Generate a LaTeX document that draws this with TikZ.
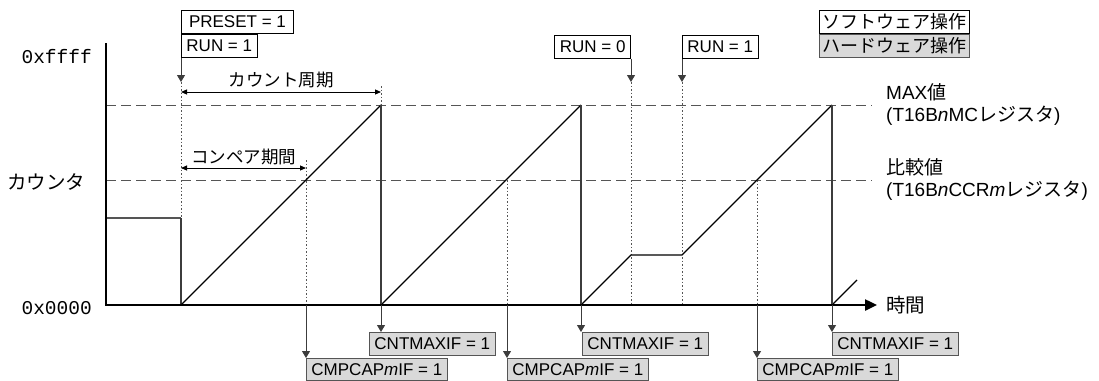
\documentclass[tikz,border=0pt]{standalone}
\usepackage{fontspec}
\usepackage{tikz}
\usetikzlibrary{arrows.meta, positioning}
\setmainfont{Liberation Sans}
\newfontfamily\jpfont{Noto Sans CJK JP}
\newfontfamily\hexfont{Liberation Mono}
\newcommand{\jp}[1]{{\jpfont #1}}
\definecolor{flaggray}{RGB}{217, 217, 217}
\definecolor{linegray}{RGB}{85, 85, 85}
\definecolor{dropgray}{RGB}{60, 60, 60}

\begin{document}
\begin{tikzpicture}[x=1pt, y=-1pt,
    swflag/.style={rectangle, draw=black, fill=white, line width=0.9pt,
        inner xsep=5pt, inner ysep=0pt, minimum height=23pt,
        font=\fontsize{17}{20}\selectfont},
    hwflag/.style={swflag, draw=linegray, fill=flaggray},
    legendbox/.style={swflag, inner xsep=3pt, font=\jpfont\fontsize{18}{20}\selectfont},
    axisline/.style={line width=2.4pt, line join=miter},
    levelline/.style={linegray, line width=1pt, dash pattern=on 10pt off 5pt},
    markline/.style={linegray, line width=1pt, dash pattern=on 1.5pt off 2pt},
    ramp/.style={line width=1.1pt},
    dropline/.style={dropgray, line width=1.3pt},
    flagarr/.style={-{Triangle[length=7pt, width=8pt]}, line width=1pt, dropgray},
    spanarr/.style={{Triangle[length=6pt, width=5pt]}-{Triangle[length=6pt, width=5pt]}, line width=1pt},
    lbl/.style={inner sep=0pt, font=\jpfont\fontsize{17.5}{20}\selectfont},
    sidelbl/.style={inner sep=0pt, align=left, anchor=west, font=\fontsize{19}{22}\selectfont}
]
\useasboundingbox (0,0) rectangle (1099,380);

% Event times on the time axis
\coordinate (o) at (106,305);
\coordinate (t0) at (181,305);
\coordinate (c1) at (306,305);
\coordinate (m1) at (381,305);
\coordinate (c2) at (507,305);
\coordinate (m2) at (581,305);
\coordinate (s1) at (631,305);
\coordinate (s2) at (682,305);
\coordinate (c3) at (757,305);
\coordinate (m3) at (832,305);
\coordinate (ytop) at (106,43);
\coordinate (maxv) at (106,105);
\coordinate (cmpv) at (106,180);
\coordinate (tipv) at (0,82);
\coordinate (lvlend) at (872,0);

% Threshold lines
\draw[levelline] (maxv) -- (maxv -| lvlend);
\draw[levelline] (cmpv) -- (cmpv -| lvlend);

% Dotted event markers
\draw[markline] (t0 |- tipv) -- (t0);
\draw[markline] (381,86) -- (381,105);
\draw[markline] (306,160) -- (c1);
\draw[markline] (c2 |- cmpv) -- (c2);
\draw[markline] (c3 |- cmpv) -- (c3);
\draw[markline] (s1 |- tipv) -- (s1);
\draw[markline] (s2 |- tipv) -- (s2);

% Counter
\draw[ramp, linegray] (106,218) -- (181,218);
\draw[dropline] (181,218) -- (t0);
\draw[ramp] (t0) -- (381,105);
\draw[ramp] (m1) -- (581,105);
\draw[ramp] (m2) -- (631,255) -- (682,255) -- (832,105);
\draw[ramp] (m3) -- (857,280);
\foreach \x in {381,581,832} \draw[dropline] (\x,105) -- (\x,305);

% Axes and axis labels
\node[sidelbl, font=\jpfont\fontsize{19.5}{22}\selectfont] (timelbl) at (886,305) {時間};
\draw[axisline, -{Triangle[length=12pt, width=11pt]}] (ytop) -- (o) -- ([xshift=-9pt]timelbl.west);
\node[anchor=east, inner sep=0pt, font=\hexfont\fontsize{19.5}{22}\selectfont] (hexmax) at (92,57) {0xffff};
\node[anchor=east, inner sep=0pt, font=\hexfont\fontsize{19.5}{22}\selectfont] (hexzero) at (92,308) {0x0000};
\node[lbl, font=\jpfont\fontsize{19.5}{22}\selectfont] (cntlbl) at (46,182) {カウンタ};
\node[sidelbl] (maxlbl) at (886,104) {MAX\jp{値}\\(T16B\textit{n}MC\jp{レジスタ})};
\node[sidelbl] (cmplbl) at (886,179) {\jp{比較値}\\(T16B\textit{n}CCR\textit{m}\jp{レジスタ})};

% Periods
\draw[spanarr] (181,92) -- (381,92) node[lbl, midway, above=3pt] (cntperiod) {カウント周期};
\draw[spanarr] (181,168) -- (306,168) node[lbl, midway, above=3pt] (cmpperiod) {コンペア期間};

% Software flags
\node[swflag, anchor=north west, minimum width=112pt] (preset) at (181,10) {PRESET = 1};
\node[swflag, anchor=north west] (runa) at (preset.south west) {RUN = 1};
\node[swflag, anchor=north east] (runstop) at (631,35) {RUN = 0};
\node[swflag, anchor=north west] (runb) at (682,35) {RUN = 1};
\draw[flagarr] (runa.south west) -- (t0 |- tipv);
\draw[flagarr] (runstop.south east) -- (s1 |- tipv);
\draw[flagarr] (runb.south west) -- (s2 |- tipv);

% Hardware flags
\node[hwflag, anchor=north west] (maxa) at (369,332) {CNTMAXIF = 1};
\node[hwflag, anchor=north west] (maxb) at (582,332) {CNTMAXIF = 1};
\node[hwflag, anchor=north west] (maxc) at (832,332) {CNTMAXIF = 1};
\node[hwflag, anchor=north west, minimum height=22pt] (cmpa) at (306,358) {CMPCAP\textit{m}IF = 1};
\node[hwflag, anchor=north west, minimum height=22pt] (cmpb) at (507,358) {CMPCAP\textit{m}IF = 1};
\node[hwflag, anchor=north west, minimum height=22pt] (cmpc) at (757,358) {CMPCAP\textit{m}IF = 1};
\draw[flagarr] (m1) -- (m1 |- maxa.north);
\draw[flagarr] (m2) -- (m2 |- maxb.north);
\draw[flagarr] (m3) -- (m3 |- maxc.north);
\draw[flagarr] (c1) -- (c1 |- cmpa.north);
\draw[flagarr] (c2) -- (c2 |- cmpb.north);
\draw[flagarr] (c3) -- (c3 |- cmpc.north);

% Legend
\node[legendbox, anchor=north west] (swkey) at (819,10) {ソフトウェア操作};
\node[legendbox, draw=linegray, fill=flaggray, anchor=north west] (hwkey) at (swkey.south west) {ハードウェア操作};

\end{tikzpicture}
\end{document}
